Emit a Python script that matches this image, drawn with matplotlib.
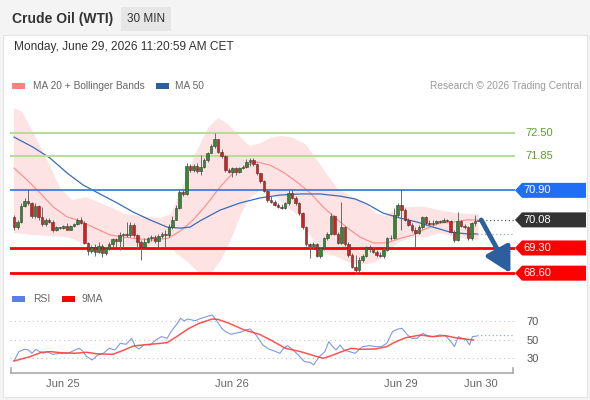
import numpy as np
import matplotlib.pyplot as plt
from matplotlib.patches import Rectangle, Polygon
from matplotlib.transforms import IdentityTransform, blended_transform_factory

plt.rcParams['font.family'] = ['Liberation Sans', 'DejaVu Sans']

# 30 min bars, opens follow the previous close
first_open = 70.15
closes = [69.87, 70.03, 70.46, 70.60, 70.54, 70.19, 70.46, 70.17, 69.96, 70.07,
          70.03, 69.80, 69.87, 69.85, 69.91, 69.81, 69.91, 69.96, 70.07, 70.00,
          69.44, 69.22, 69.33, 69.19, 69.35, 69.15, 69.29, 69.41, 69.54, 69.50,
          69.66, 69.70, 69.66, 69.94, 69.66, 69.47, 69.33, 69.47, 69.57, 69.61,
          69.50, 69.63, 69.70, 69.66, 69.89, 70.09, 70.40, 70.86, 70.80, 71.57,
          71.46, 71.57, 71.44, 71.56, 71.74, 71.94, 72.13, 72.32, 71.97, 71.85,
          71.46, 71.42, 71.51, 71.42, 71.51, 71.56, 71.70, 71.74, 71.63, 71.37,
          71.17, 70.89, 70.63, 70.58, 70.49, 70.44, 70.40, 70.54, 70.83, 70.70,
          70.54, 70.26, 69.89, 69.41, 69.35, 69.41, 69.07, 69.29, 69.57, 69.70,
          70.19, 69.70, 69.44, 69.89, 69.41, 69.10, 68.78, 68.69, 68.96, 69.07,
          69.32, 69.26, 69.19, 69.10, 69.07, 69.24, 69.57, 69.59, 70.21, 70.49,
          70.35, 70.09, 69.94, 69.80, 69.72, 69.89, 70.15, 69.98, 69.96, 70.00,
          70.06, 70.03, 70.09, 70.06, 69.75, 69.52, 70.06, 69.91, 69.87, 69.57,
          69.98, 70.06, 70.08]
highs = [70.21, 70.07, 70.54, 70.70, 70.95, 70.58, 70.54, 70.49, 70.43, 70.12,
         70.12, 70.09, 69.91, 69.89, 69.94, 69.98, 69.94, 70.00, 70.12, 70.15,
         70.06, 69.47, 69.38, 69.41, 69.47, 69.41, 69.33, 69.47, 69.59, 69.59,
         69.75, 69.72, 70.03, 70.03, 69.98, 69.70, 69.52, 69.57, 69.61, 69.66,
         69.66, 69.70, 69.75, 69.80, 69.96, 70.19, 70.49, 70.95, 70.95, 71.65,
         71.63, 71.63, 71.65, 71.88, 71.79, 71.97, 72.19, 72.48, 72.34, 72.04,
         71.88, 71.51, 71.56, 71.56, 71.56, 71.60, 71.76, 71.81, 71.81, 71.67,
         71.39, 71.20, 70.93, 70.74, 70.63, 70.56, 70.52, 70.58, 70.91, 70.95,
         70.74, 70.58, 70.29, 69.91, 69.44, 69.47, 69.44, 69.33, 69.61, 69.75,
         70.26, 70.21, 69.75, 70.58, 69.91, 69.47, 69.15, 69.10, 69.06, 69.13,
         69.35, 69.38, 69.33, 69.24, 69.19, 69.29, 69.61, 69.66, 70.40, 70.54,
         70.95, 70.40, 70.12, 69.98, 69.87, 69.94, 70.19, 70.19, 70.07, 70.07,
         70.09, 70.09, 70.12, 70.11, 70.07, 69.80, 70.29, 70.09, 69.96, 69.91,
         70.03, 70.21, 70.11]
lows = [69.80, 69.84, 69.98, 70.43, 70.49, 70.12, 70.12, 70.09, 69.91, 69.91,
        69.98, 69.75, 69.77, 69.82, 69.83, 69.80, 69.80, 69.89, 69.94, 69.96,
        69.41, 69.10, 69.15, 69.07, 69.15, 69.06, 69.10, 69.24, 69.33, 69.33,
        69.24, 69.33, 69.61, 69.61, 69.61, 69.29, 68.96, 69.29, 69.43, 69.50,
        69.44, 69.29, 69.59, 69.33, 69.61, 69.84, 70.07, 70.37, 70.74, 70.76,
        71.42, 71.42, 71.37, 71.32, 71.51, 71.70, 71.93, 72.09, 71.93, 71.81,
        71.42, 71.37, 71.28, 71.32, 71.39, 71.48, 71.51, 71.57, 71.57, 71.32,
        71.11, 70.86, 70.58, 70.54, 70.46, 70.40, 70.37, 70.37, 70.49, 70.65,
        70.49, 70.21, 69.84, 69.35, 69.01, 69.29, 69.04, 69.01, 69.24, 69.52,
        69.66, 69.66, 69.41, 69.41, 69.35, 69.06, 68.73, 68.57, 68.64, 68.92,
        69.04, 69.19, 69.17, 69.06, 69.04, 69.01, 69.22, 69.52, 69.54, 70.17,
        69.80, 70.06, 69.91, 69.75, 69.33, 69.70, 69.84, 69.94, 69.93, 69.94,
        69.96, 70.00, 70.02, 70.02, 69.72, 69.47, 69.50, 69.87, 69.84, 69.52,
        69.52, 69.91, 70.06]

# MA 20 + Bollinger bands and MA 50 (bar index, price)
bb_up_x = [0, 2.3, 5.4, 9.7, 13.1, 16.5, 20.5, 23.6, 27.3, 31.5, 35.8, 41.5, 44.6, 47.4,
           51.4, 55.1, 58, 60.8, 63.6, 67, 69.9, 72.7, 75.6, 78.7, 82.7, 85.5, 88.4, 92,
           95.7, 99.7, 102.6, 105.4, 108.2, 111.9, 116.8, 121, 125.3, 131, 132]
bb_up = [73.19, 73.08, 72.52, 71.69, 70.96, 70.63, 70.71, 70.58, 70.44, 70.24, 70.19,
         70.13, 70.24, 70.91, 71.88, 72.63, 72.91, 72.74, 72.44, 72.13, 72.21, 72.35,
         72.41, 72.38, 72.19, 71.82, 71.41, 70.94, 70.74, 70.55, 70.27, 70.19, 70.35,
         70.44, 70.44, 70.35, 70.27, 70.24, 70.24]
bb_lo_x = [0, 5.4, 15.1, 19.6, 24.4, 33.8, 41.5, 45.2, 47.4, 49.4, 53.1, 56, 58.8, 61.6,
           64.5, 67, 69.9, 72.2, 74.7, 77.6, 81.3, 84.1, 86.9, 91.8, 95.5, 98.3, 100.3,
           102.6, 104.8, 108.8, 113.4, 117.3, 121, 125.9, 130.4, 132]
bb_lo = [69.71, 69.66, 69.60, 69.44, 69.30, 69.35, 69.35, 69.24, 69.05, 68.91, 68.55,
         68.60, 68.96, 69.52, 70.24, 70.69, 70.91, 70.88, 70.71, 70.44, 70.16, 69.66,
         69.19, 69.05, 68.88, 68.85, 68.85, 68.91, 69.05, 69.44, 69.60, 69.60, 69.71,
         69.60, 69.52, 69.52]
ma20_x = [0, 3.7, 7.4, 11.1, 15.1, 18.8, 22.4, 27.3, 33.8, 39.5, 43.8, 47.2, 50.9, 54.3,
          58.5, 62.2, 66.2, 69, 72.7, 76.4, 80.4, 84.1, 87.8, 92.6, 95.5, 98.3, 102, 106,
          109.7, 113.4, 117.3, 121, 124.7, 128.7, 131.5]
ma20 = [71.52, 71.19, 70.83, 70.44, 70.16, 70.05, 69.88, 69.66, 69.57, 69.52, 69.57,
        69.77, 70.08, 70.46, 70.99, 71.38, 71.60, 71.69, 71.60, 71.41, 71.13, 70.83,
        70.44, 70.02, 69.80, 69.60, 69.44, 69.44, 69.57, 69.66, 69.85, 69.99, 70.02,
        70.08, 70.08]
ma50_x = [0, 5.4, 10.2, 15.1, 19.6, 24.4, 29.3, 33.8, 38.6, 43.5, 47.2, 50, 52.8, 58.5,
          64.2, 69.9, 75.6, 81.3, 86.9, 92.6, 96.9, 100.3, 104.8, 109.7, 114.5, 119,
          123.9, 128.7, 131.5]
ma50 = [72.38, 72.10, 71.80, 71.38, 71.05, 70.80, 70.55, 70.30, 70.08, 69.88, 69.85,
        69.88, 70.05, 70.35, 70.55, 70.69, 70.77, 70.80, 70.80, 70.74, 70.66, 70.52,
        70.27, 70.13, 70.02, 69.88, 69.74, 69.69, 69.69]

# key levels
resistances = [72.50, 71.85]
pivot = 70.90
last_price = 70.08
supports = [69.30, 68.60]
target_bars = 9  # projection arrow length in bars

# RSI panel
rsi_x = [0, 1.4, 3.0, 4.1, 5.1, 6.2, 7.3, 8.3, 9.4, 11.0, 13.1, 15.3, 17.4, 18.5, 19.5,
         20.6, 22.2, 23.8, 25.4, 27.0, 28.6, 30.2, 31.8, 33.4, 34.5, 35.5, 37.1, 38.7,
         40.3, 41.9, 43.5, 44.6, 46.2, 47.3, 48.3, 49.4, 50.5, 51.5, 53.1, 54.7, 56.3,
         57.4, 59.0, 60.1, 61.7, 62.7, 64.3, 65.9, 67.0, 68.6, 69.7, 70.7, 72.3, 73.9,
         75.5, 76.6, 77.7, 79.3, 80.9, 82.5, 84.1, 85.1, 86.7, 88.3, 89.4, 90.5, 91.5,
         92.6, 93.7, 95.3, 96.9, 97.9, 99.0, 101.1, 102.7, 104.3, 105.9, 107.5, 109.1,
         110.2, 111.8, 112.9, 114.5, 116.1, 117.7, 119.3, 120.9, 122.5, 124.1, 125.1,
         126.2, 127.3, 128.3, 129.4, 130.2, 131.5]
rsi = [26.8, 36.9, 39.4, 38.7, 35.1, 39.4, 36.9, 35.1, 36.9, 34.0, 35.1, 35.1, 38.7, 40.5,
       37.6, 31.5, 27.9, 33.3, 35.1, 40.5, 38.7, 45.9, 44.8, 51.3, 42.3, 39.8, 44.8, 44.1,
       49.5, 53.1, 51.3, 58.5, 66.4, 72.9, 70.0, 72.2, 71.1, 70.4, 72.9, 74.7, 76.5, 71.1,
       62.1, 58.5, 55.6, 56.7, 57.8, 60.3, 61.4, 55.6, 49.5, 44.1, 39.8, 37.6, 35.1, 40.5,
       43.4, 38.7, 32.6, 26.1, 25.4, 22.5, 31.5, 36.9, 47.7, 42.3, 38.7, 44.1, 38.7, 36.9,
       35.1, 38.7, 42.3, 43.4, 42.3, 42.3, 45.9, 58.5, 61.4, 62.1, 54.9, 51.3, 51.3, 56.7,
       53.8, 53.1, 54.9, 54.2, 47.7, 42.3, 53.1, 51.3, 50.6, 44.1, 53.1, 53.8]
rsi_ma_x = [0, 4.6, 7.8, 10.5, 13.1, 17.4, 20.6, 23.8, 28.1, 31.3, 33.9, 36.6, 39.8, 43.5,
            46.2, 49.4, 52.6, 56.3, 57.9, 61.1, 65.4, 69.7, 72.9, 77.1, 81.4, 85.1, 87.8,
            89.9, 93.1, 95.8, 98.5, 102.7, 105.9, 108.1, 111.3, 115.5, 118.7, 122.5, 126.2,
            130.5]
rsi_ma = [26.8, 31.5, 36.2, 36.9, 35.8, 35.1, 36.2, 34.4, 34.0, 38.7, 43.0, 44.1, 45.2, 46.6,
          53.1, 61.4, 67.5, 72.2, 71.8, 67.5, 60.3, 55.6, 49.5, 40.5, 36.9, 32.6, 29.7, 32.2,
          36.9, 40.5, 39.4, 39.8, 42.3, 47.0, 52.0, 54.9, 53.1, 54.2, 51.3, 49.5]
rsi_now = 55
rsi_levels = [30, 50, 70]

day_pos = [14, 62, 110, 132.5]
day_labels = ['Jun 25', 'Jun 26', 'Jun 29', 'Jun 30']

W, H = 590, 400
fig = plt.figure(figsize=(W / 100, H / 100), dpi=100)
fig.patch.set_facecolor('#f4f4f4')


def fx(x):
    return x / W


def fy(y):
    return 1 - y / H


# page frame and header
fig.add_artist(Rectangle((fx(3), fy(397)), 584 / W, 362 / H, transform=fig.transFigure,
                         facecolor='white', edgecolor='#e4e4e4', lw=0.8, zorder=-2))
fig.add_artist(Rectangle((fx(121), fy(31)), 50 / W, 24 / H, transform=fig.transFigure,
                         facecolor='#e6e6e6', edgecolor='none', zorder=-1))
fig.text(fx(12), fy(19), 'Crude Oil (WTI)', fontsize=10, fontweight='bold', color='#333333', va='center')
fig.text(fx(146), fy(19), '30 MIN', fontsize=8.5, color='#333333', va='center', ha='center')
fig.text(fx(14), fy(47), 'Monday, June 29, 2026 11:20:59 AM CET', fontsize=8.6, color='#333333', va='center')

# legends
fig.add_artist(Rectangle((fx(12), fy(89)), 13 / W, 6 / H, transform=fig.transFigure, facecolor='#ff8080', edgecolor='none'))
fig.text(fx(33), fy(86), 'MA 20 + Bollinger Bands', fontsize=7.3, color='#666666', va='center')
fig.add_artist(Rectangle((fx(156), fy(89)), 13 / W, 6 / H, transform=fig.transFigure, facecolor='#2c5f9e', edgecolor='none'))
fig.text(fx(175), fy(86), 'MA 50', fontsize=7.3, color='#666666', va='center')
fig.text(fx(581), fy(86), 'Research \u00a9 2026 Trading Central', fontsize=7.3, color='#9a9a9a', va='center', ha='right')

fig.add_artist(Rectangle((fx(12), fy(302)), 13 / W, 6 / H, transform=fig.transFigure, facecolor='#5b80e0', edgecolor='none'))
fig.text(fx(33), fy(299), 'RSI', fontsize=7.5, color='#666666', va='center')
fig.add_artist(Rectangle((fx(62), fy(302)), 13 / W, 6 / H, transform=fig.transFigure, facecolor='#ff0000', edgecolor='none'))
fig.text(fx(82), fy(299), '9MA', fontsize=7.5, color='#666666', va='center')

# price panel
xlim = (-1.14, 142.3)
ax = fig.add_axes([fx(10), fy(280), 505 / W, 180 / H])
ax.set_xlim(*xlim)
ax.set_ylim(68.41, 73.41)
ax.axis('off')

ax.fill(np.r_[bb_up_x, bb_lo_x[::-1]], np.r_[bb_up, bb_lo[::-1]], color='#fde3e3', lw=0, zorder=1)
ax.plot(ma20_x, ma20, color='#ff8a8a', lw=0.8, zorder=2)
ax.plot(ma50_x, ma50, color='#3a6db5', lw=0.9, zorder=2)

for lv in resistances:
    ax.axhline(lv, color='#b9dc98', lw=1.5, zorder=2)
ax.axhline(pivot, color='#3b7cf0', lw=1.3, zorder=2)
for lv in supports:
    ax.axhline(lv, color='#ff0000', lw=2, zorder=2)

idx = np.arange(len(closes))
c = np.array(closes)
o = np.r_[first_open, c[:-1]]
up = c >= o
ax.vlines(idx, lows, highs, color='#6a6a6a', lw=0.7, zorder=3)
ax.bar(idx, np.maximum(np.abs(c - o), 0.015), bottom=np.minimum(o, c), width=0.72,
       color=np.where(up, '#2e8b2e', '#e01b1b'), edgecolor='#3a3a3a', lw=0.4, zorder=4)

ax.hlines(last_price, idx[-1] + 0.8, xlim[1], color='#555555', lw=0.9, linestyles=(0, (1, 2)), zorder=2)
ax.hlines(ma50[-1], ma50_x[-1], xlim[1], color='#8fa8d8', lw=0.9, linestyles=(0, (1, 2)), zorder=2)

ax.annotate('', xy=(idx[-1] + target_bars, supports[-1]), xytext=(idx[-1] + 0.7, last_price),
            arrowprops=dict(arrowstyle='-|>,head_length=1.0,head_width=0.55', lw=3.4,
                            color='#2d5f9f', shrinkA=0, shrinkB=0, mutation_scale=15),
            annotation_clip=False, zorder=6)

fig.canvas.draw()
blend = blended_transform_factory(ax.transAxes, ax.transData)


def tag(val, fc):
    x0, y0 = blend.transform((1.0, val))
    pts = [(x0, y0), (x0 + 7, y0 + 7.5), (x0 + 71, y0 + 7.5), (x0 + 71, y0 - 7.5), (x0 + 7, y0 - 7.5)]
    fig.add_artist(Polygon(pts, closed=True, transform=IdentityTransform(), facecolor=fc,
                           edgecolor='none', zorder=5))
    fig.text(x0 + 8, y0, f'{val:.2f}', transform=IdentityTransform(), fontsize=8,
             color='white', va='center', ha='left', zorder=6)


for lv in resistances:
    ax.text(1.02, lv, f'{lv:.2f}', transform=blend, fontsize=8, color='#5aa02c',
            va='center', ha='left', clip_on=False)
tag(pivot, '#1f6ef5')
tag(last_price, '#333333')
for lv in supports:
    tag(lv, '#ff0000')

# RSI panel
ax2 = fig.add_axes([fx(10), fy(373), 505 / W, 68 / H])
ax2.set_xlim(*xlim)
ax2.set_ylim(13.8, 87.3)
ax2.set_facecolor('none')
for lv in rsi_levels:
    ax2.axhline(lv, color='#c4c4c4', lw=0.8, ls=(0, (1, 3)), zorder=1)
ax2.plot(rsi_x, rsi, color='#7d9ae6', lw=0.8, zorder=2)
ax2.plot(rsi_ma_x, rsi_ma, color='#ff4040', lw=1.1, alpha=0.9, zorder=3)
ax2.hlines(rsi_now, rsi_x[-1], xlim[1], color='#8fa8e8', lw=0.9, linestyles=(0, (1, 2)))

for s in ['top', 'right', 'left']:
    ax2.spines[s].set_visible(False)
ax2.spines['bottom'].set_color('#aaaaaa')
ax2.spines['bottom'].set_linewidth(1.2)
ax2.spines['bottom'].set_bounds(-0.85, 141.7)
for xe in (-0.85, 141.7):
    ax2.plot([xe, xe], [13.8, 19], color='#aaaaaa', lw=1.2, clip_on=False)

ax2.set_xticks(day_pos, day_labels)
ax2.tick_params(axis='x', length=0, pad=4, labelsize=8, labelcolor='#666666')
ax2.yaxis.tick_right()
ax2.set_yticks(rsi_levels)
ax2.tick_params(axis='y', length=0, pad=8, labelsize=8, labelcolor='#555555')

fig.savefig('out.png', dpi=100, facecolor=fig.get_facecolor())
